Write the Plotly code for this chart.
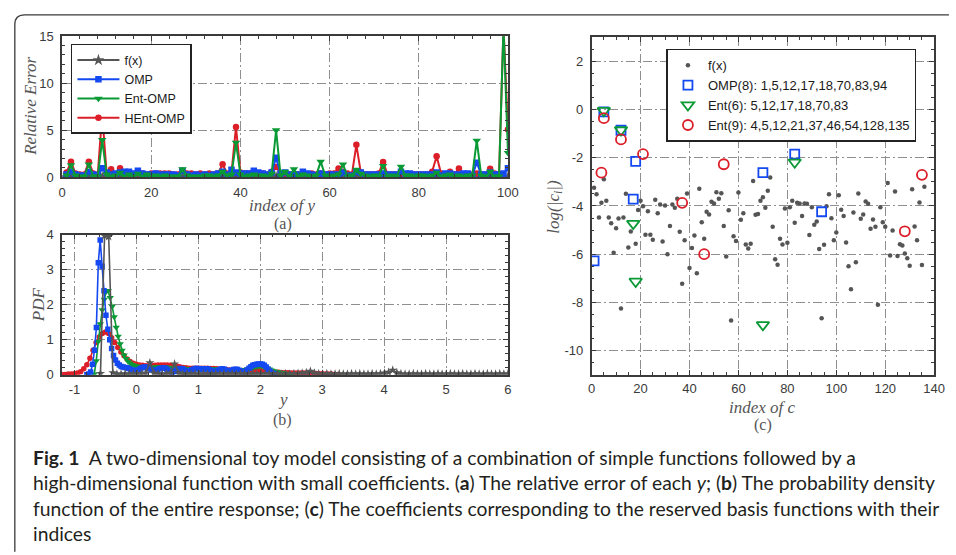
import numpy as np
import plotly.graph_objects as go

W, H = 956, 555

# ---------------- data: panel (a) relative error ----------------
idx_y = list(range(1, 101))
err_fx = [0.0, 0.0, 0.0, 0.0, 0.0, 0.0, 0.0, 0.0, 0.0, 0.0,
          0.0, 0.0, 0.0, 0.0, 0.0, 0.0, 0.0, 0.0, 0.0, 0.0,
          0.0, 0.0, 0.0, 0.0, 0.0, 0.0, 0.0, 0.0, 0.0, 0.0,
          0.0, 0.0, 0.0, 0.0, 0.0, 0.0, 0.0, 0.0, 0.0, 0.0,
          0.0, 0.0, 0.0, 0.0, 0.0, 0.0, 0.0, 0.0, 0.0, 0.0,
          0.0, 0.0, 0.0, 0.0, 0.0, 0.0, 0.0, 0.0, 0.0, 0.0,
          0.0, 0.0, 0.0, 0.0, 0.0, 0.0, 0.0, 0.0, 0.0, 0.0,
          0.0, 0.0, 0.0, 0.0, 0.0, 0.0, 0.0, 0.0, 0.0, 0.0,
          0.0, 0.0, 0.0, 0.0, 0.0, 0.0, 0.0, 0.0, 0.0, 0.0,
          0.0, 0.0, 0.0, 0.0, 0.0, 0.0, 0.0, 0.0, 0.0, 0.0]
err_omp = [0.3, 0.6, 0.3, 0.2, 0.2, 0.55, 0.3, 0.2, 0.97, 0.5,
           0.3, 0.4, 0.5, 0.6, 0.6, 0.4, 0.7, 0.4, 0.3, 0.3,
           0.4, 0.3, 0.3, 0.3, 0.3, 0.2, 0.7, 0.3, 0.2, 0.3,
           0.2, 0.3, 0.2, 0.3, 0.4, 0.6, 0.3, 0.8, 0.5, 0.4,
           0.4, 0.4, 0.7, 0.5, 0.4, 0.3, 0.5, 2.07, 0.4, 0.5,
           0.3, 0.3, 0.3, 0.6, 0.4, 0.3, 0.2, 0.4, 0.3, 0.3,
           0.3, 0.3, 0.5, 0.2, 0.2, 0.6, 0.5, 0.3, 0.3, 0.3,
           0.3, 0.4, 0.3, 0.3, 0.3, 0.6, 0.4, 0.4, 0.3, 0.3,
           0.3, 0.3, 0.3, 0.5, 0.2, 0.4, 0.4, 0.3, 0.3, 0.4,
           0.4, 0.2, 1.55, 0.3, 0.3, 0.5, 0.3, 0.3, 0.4, 0.97]
err_ent = [0.2, 1.28, 0.2, 0.1, 0.1, 1.38, 0.1, 0.1, 3.97, 0.3,
           0.1, 0.2, 0.5, 0.1, 0.3, 0.1, 0.4, 0.1, 0.3, 0.1,
           0.2, 0.1, 0.2, 0.1, 0.1, 0.1, 0.86, 0.2, 0.1, 0.1,
           0.1, 0.2, 0.2, 0.1, 0.2, 0.6, 0.2, 0.3, 3.69, 0.3,
           0.1, 0.2, 0.3, 0.2, 0.2, 0.1, 0.4, 5.0, 0.2, 0.6,
           0.1, 0.86, 0.1, 0.3, 0.2, 0.1, 0.2, 1.66, 0.2, 0.1,
           0.2, 0.3, 1.38, 0.1, 0.2, 0.8, 0.4, 0.2, 0.1, 0.2,
           0.1, 1.2, 0.1, 0.2, 0.1, 1.14, 0.2, 0.2, 0.1, 0.2,
           0.2, 0.1, 0.2, 0.5, 0.1, 0.2, 0.3, 0.1, 0.2, 0.1,
           0.2, 0.2, 3.9, 0.2, 0.1, 0.6, 0.1, 0.1, 16.0, 2.6]
err_hent = [0.5, 1.66, 0.4, 0.3, 0.3, 1.66, 0.4, 0.3, 6.7, 0.4,
            0.86, 0.3, 0.97, 0.4, 0.3, 0.3, 0.3, 0.4, 0.3, 0.4,
            0.4, 0.4, 0.4, 0.4, 0.3, 0.3, 0.7, 0.4, 0.4, 0.3,
            0.4, 0.3, 0.4, 0.3, 0.4, 1.38, 0.4, 0.5, 5.34, 0.5,
            0.4, 0.4, 0.5, 0.4, 0.4, 0.3, 0.6, 1.1, 0.4, 0.4,
            0.3, 0.2, 0.3, 0.3, 0.3, 0.4, 0.3, 0.4, 0.3, 0.4,
            0.4, 0.93, 0.6, 0.4, 0.3, 3.45, 0.5, 0.3, 0.3, 0.3,
            0.4, 1.62, 0.3, 0.3, 0.3, 0.4, 0.3, 0.2, 0.3, 0.3,
            0.3, 0.3, 0.6, 2.24, 0.4, 0.3, 0.6, 0.3, 0.93, 0.3,
            0.3, 0.3, 0.4, 0.3, 0.3, 0.9, 0.4, 0.3, 16.0, 5.07]

# ---------------- data: panel (b) PDF (evaluation grids: ends + values) ----------------
pdf_fx_range = (-0.58, 6.0)
pdf_fx = [0.04, 3.97, 3.95, 0.06, 0.02, 0.02, 0.03, 0.02, 0.03, 0.02,
          0.03, 0.05, 0.34, 0.05, 0.03, 0.02, 0.03, 0.05, 0.31, 0.05,
          0.02, 0.03, 0.02, 0.03, 0.02, 0.03, 0.02, 0.02, 0.03, 0.02,
          0.03, 0.02, 0.03, 0.02, 0.03, 0.02, 0.02, 0.03, 0.02, 0.03,
          0.02, 0.03, 0.02, 0.03, 0.02, 0.03, 0.02, 0.03, 0.04, 0.05,
          0.06, 0.10, 0.05, 0.03, 0.02, 0.03, 0.02, 0.02, 0.03, 0.02,
          0.02, 0.03, 0.02, 0.03, 0.02, 0.02, 0.03, 0.02, 0.03, 0.05,
          0.07, 0.13, 0.06, 0.03, 0.02, 0.02, 0.03, 0.02, 0.02, 0.03,
          0.02, 0.02, 0.03, 0.02, 0.02, 0.03, 0.02, 0.02, 0.03, 0.02,
          0.02, 0.03, 0.02, 0.02, 0.03, 0.02, 0.02, 0.03, 0.02, 0.03]
pdf_omp_range = (-0.8, 2.25)
pdf_omp = [0.0, 0.02, 0.08, 0.30, 0.70, 1.35, 3.20, 3.85, 3.10, 2.40,
           1.70, 1.30, 1.00, 0.75, 0.55, 0.42, 0.33, 0.28, 0.24, 0.22,
           0.21, 0.20, 0.18, 0.15, 0.13, 0.12, 0.12, 0.14, 0.17, 0.20,
           0.22, 0.22, 0.20, 0.17, 0.14, 0.12, 0.12, 0.14, 0.17, 0.19,
           0.20, 0.19, 0.16, 0.12, 0.09, 0.08, 0.10, 0.13, 0.16, 0.18,
           0.17, 0.14, 0.11, 0.10, 0.11, 0.14, 0.16, 0.18, 0.18, 0.17,
           0.16, 0.16, 0.17, 0.17, 0.15, 0.12, 0.10, 0.09, 0.10, 0.13,
           0.16, 0.17, 0.16, 0.13, 0.11, 0.11, 0.13, 0.15, 0.16, 0.15,
           0.12, 0.09, 0.08, 0.10, 0.14, 0.19, 0.23, 0.27, 0.29, 0.30,
           0.31, 0.31, 0.30, 0.27, 0.22, 0.16, 0.10, 0.06, 0.03, 0.01]
pdf_ent_range = (-0.68, 2.5)
pdf_ent = [0.02, 0.40, 0.95, 1.45, 1.85, 2.15, 2.38, 2.40, 2.20, 1.95,
           1.65, 1.35, 1.10, 0.88, 0.70, 0.56, 0.46, 0.38, 0.33, 0.29,
           0.27, 0.25, 0.24, 0.23, 0.22, 0.22, 0.21, 0.21, 0.21, 0.21,
           0.22, 0.22, 0.23, 0.23, 0.23, 0.23, 0.22, 0.21, 0.20, 0.19,
           0.19, 0.19, 0.19, 0.19, 0.19, 0.18, 0.17, 0.17, 0.17, 0.17,
           0.17, 0.17, 0.17, 0.17, 0.17, 0.17, 0.17, 0.17, 0.17, 0.17,
           0.17, 0.17, 0.17, 0.16, 0.16, 0.15, 0.15, 0.14, 0.14, 0.14,
           0.14, 0.14, 0.14, 0.14, 0.14, 0.14, 0.15, 0.16, 0.17, 0.19,
           0.21, 0.23, 0.24, 0.25, 0.25, 0.24, 0.22, 0.19, 0.16, 0.13,
           0.11, 0.09, 0.08, 0.07, 0.06, 0.05, 0.04, 0.03, 0.02, 0.01]
pdf_hent_range = (-1.2, 3.25)
pdf_hent = [0.01, 0.01, 0.02, 0.02, 0.03, 0.05, 0.09, 0.17, 0.29, 0.47,
            0.70, 0.92, 1.08, 1.18, 1.22, 1.18, 1.06, 0.92, 0.78, 0.65,
            0.54, 0.45, 0.38, 0.33, 0.30, 0.28, 0.27, 0.26, 0.26, 0.26,
            0.27, 0.28, 0.28, 0.28, 0.28, 0.27, 0.26, 0.25, 0.23, 0.21,
            0.20, 0.19, 0.19, 0.19, 0.19, 0.19, 0.19, 0.19, 0.18, 0.18,
            0.17, 0.16, 0.15, 0.15, 0.14, 0.14, 0.13, 0.13, 0.12, 0.12,
            0.12, 0.12, 0.12, 0.12, 0.12, 0.11, 0.10, 0.09, 0.08, 0.07,
            0.07, 0.06, 0.06, 0.06, 0.05, 0.05, 0.05, 0.05, 0.05, 0.05,
            0.05, 0.04, 0.04, 0.03, 0.03, 0.02, 0.02, 0.02, 0.01, 0.01]

# ---------------- data: panel (c) coefficients ----------------
c_idx = [1, 2, 3, 4, 5, 6, 7, 8, 9, 10, 11, 12, 13, 14, 15, 16, 18, 19, 20,
         21, 22, 23, 24, 25, 26, 27, 28, 29, 30, 31, 32, 33, 34, 35, 36, 37, 38, 39, 40,
         41, 42, 43, 44, 45, 46, 47, 48, 49, 50, 51, 52, 53, 54, 55, 56, 57, 58, 59, 60,
         61, 62, 63, 64, 65, 66, 67, 68, 69, 70, 71, 72, 73, 74, 75, 76, 77, 78, 79, 80,
         81, 82, 83, 84, 85, 86, 87, 88, 89, 90, 91, 92, 93, 94, 95, 96, 97, 98, 99, 100,
         101, 102, 103, 104, 105, 106, 107, 108, 109, 110, 111, 112, 113, 114, 115, 116,
         117, 118, 119, 120, 121, 122, 123, 124, 125, 126, 127, 128, 129, 130, 131, 132,
         133, 134, 135, 136]
c_val = [-3.24, -3.51, -4.48, -3.87, -2.89, -3.78, -4.48, -4.72, -5.94, -4.92, -4.52,
         -8.25, -4.48, -3.49, -5.72, -5.06, -5.57, -4.17, -3.78,
         -4.01, -5.19, -4.22, -5.19, -5.40, -3.74, -4.30, -3.94, -5.47, -3.98,
         -6.00, -4.83, -3.94, -4.07, -3.70, -5.07, -7.23, -5.42, -3.48, -6.57,
         -5.74, -5.22, -6.79, -3.29, -4.68, -5.36, -4.24, -4.35, -3.83, -3.90,
         -3.43, -3.70, -3.47, -4.83, -6.10, -4.18, -8.75, -5.26, -5.45, -3.44,
         -4.57, -4.30, -5.60, -5.76, -5.57, -2.96, -4.36, -4.33, -3.78, -3.64,
         -4.07, -3.37, -2.82, -4.86, -6.21, -6.44, -5.36, -5.60, -4.10, -5.52,
         -4.05, -3.78, -4.70, -3.87, -3.90, -4.42, -3.90, -3.91, -5.20, -4.05,
         -4.78, -4.64, -5.78, -8.66, -5.61, -4.01, -3.51, -4.51, -5.42, -5.10,
         -3.56, -4.16, -4.42, -5.51, -6.50, -7.45, -4.27, -6.33, -3.48, -4.53,
         -4.35, -3.81, -3.91, -4.94, -4.56, -4.86, -8.10, -4.05, -4.68, -4.86,
         -3.05, -6.05, -5.02, -3.40, -6.07, -5.59, -5.64, -5.97, -6.17, -6.48,
         -3.31, -4.85, -5.42, -3.86, -6.45, -3.20]
omp_idx = [1, 5, 12, 17, 18, 70, 83, 94]
omp_val = [-6.28, -0.10, -0.86, -3.72, -2.15, -2.62, -1.85, -4.24]
ent_idx = [5, 12, 17, 18, 70, 83]
ent_val = [-0.05, -0.85, -4.73, -7.13, -8.93, -2.19]
hent_idx = [4, 5, 12, 21, 37, 46, 54, 128, 135]
hent_val = [-2.62, -0.36, -1.24, -1.85, -3.87, -6.00, -2.27, -5.05, -2.71]

# tick labels (plain hyphen minus, as in the reference)
ticks_a_x = [0, 20, 40, 60, 80, 100]
ticks_a_y = [0, 5, 10, 15]
ticks_b_x = [-1, 0, 1, 2, 3, 4, 5, 6]
ticks_b_y = [0, 1, 2, 3, 4]
ticks_c_x = [0, 20, 40, 60, 80, 100, 120, 140]
ticks_c_y = [-10, -8, -6, -4, -2, 0, 2]

# ---------------- style ----------------
C_GRAY = '#555555'
C_BLUE = '#1448f0'
C_GREEN = '#0a9a35'
C_RED = '#dc1e28'
AX_COL = '#3a3a3a'
TICK_FONT = dict(family='Liberation Sans, Arial, sans-serif', size=13, color='#3a3a3a')
SERIF = 'Liberation Serif, DejaVu Serif, serif'


def px(x):
    return x / W


def py(y):
    return 1 - y / H


def grid_x(lo, hi, n):
    return np.linspace(lo, hi, n)


fig = go.Figure()

# panel (a)
fig.add_trace(go.Scatter(x=idx_y, y=err_fx, name='f(x)', mode='lines+markers',
                         line=dict(color=C_GRAY, width=2),
                         marker=dict(symbol='star', size=9, color=C_GRAY),
                         xaxis='x', yaxis='y', legend='legend', legendrank=1))
fig.add_trace(go.Scatter(x=idx_y, y=err_hent, name='HEnt-OMP', mode='lines+markers',
                         line=dict(color=C_RED, width=2),
                         marker=dict(symbol='circle', size=6.5, color=C_RED),
                         xaxis='x', yaxis='y', legend='legend', legendrank=4))
fig.add_trace(go.Scatter(x=idx_y, y=err_omp, name='OMP', mode='lines+markers',
                         line=dict(color=C_BLUE, width=2),
                         marker=dict(symbol='square', size=6.5, color=C_BLUE),
                         xaxis='x', yaxis='y', legend='legend', legendrank=2))
fig.add_trace(go.Scatter(x=idx_y, y=err_ent, name='Ent-OMP', mode='lines+markers',
                         line=dict(color=C_GREEN, width=2),
                         marker=dict(symbol='triangle-down', size=7.5, color=C_GREEN),
                         xaxis='x', yaxis='y', legend='legend', legendrank=3))

# panel (b)
fig.add_trace(go.Scatter(x=grid_x(*pdf_hent_range, len(pdf_hent)), y=pdf_hent, mode='lines+markers',
                         line=dict(color=C_RED, width=1.6),
                         marker=dict(symbol='circle', size=5.5, color=C_RED),
                         xaxis='x2', yaxis='y2', showlegend=False))
fig.add_trace(go.Scatter(x=grid_x(*pdf_ent_range, len(pdf_ent)), y=pdf_ent, mode='lines+markers',
                         line=dict(color=C_GREEN, width=1.6),
                         marker=dict(symbol='triangle-down', size=6.5, color=C_GREEN),
                         xaxis='x2', yaxis='y2', showlegend=False))
fig.add_trace(go.Scatter(x=grid_x(*pdf_omp_range, len(pdf_omp)), y=pdf_omp, mode='lines+markers',
                         line=dict(color=C_BLUE, width=1.6),
                         marker=dict(symbol='square', size=5.5, color=C_BLUE),
                         xaxis='x2', yaxis='y2', showlegend=False))
fig.add_trace(go.Scatter(x=grid_x(*pdf_fx_range, len(pdf_fx)), y=pdf_fx, mode='lines+markers',
                         line=dict(color=C_GRAY, width=1.6),
                         marker=dict(symbol='star', size=7, color=C_GRAY),
                         xaxis='x2', yaxis='y2', showlegend=False))

# panel (c)
fig.add_trace(go.Scatter(x=c_idx, y=c_val, name='f(x)', mode='markers',
                         marker=dict(symbol='circle', size=4.5, color=C_GRAY),
                         xaxis='x3', yaxis='y3', legend='legend2'))
fig.add_trace(go.Scatter(x=omp_idx, y=omp_val, name='OMP(8): 1,5,12,17,18,70,83,94', mode='markers',
                         marker=dict(symbol='square-open', size=9, color=C_BLUE, line=dict(width=1.8)),
                         xaxis='x3', yaxis='y3', legend='legend2'))
fig.add_trace(go.Scatter(x=ent_idx, y=ent_val, name='Ent(6): 5,12,17,18,70,83', mode='markers',
                         marker=dict(symbol='triangle-down-open', size=11, color=C_GREEN, line=dict(width=1.8)),
                         xaxis='x3', yaxis='y3', legend='legend2'))
fig.add_trace(go.Scatter(x=hent_idx, y=hent_val, name='Ent(9): 4,5,12,21,37,46,54,128,135', mode='markers',
                         marker=dict(symbol='circle-open', size=10, color=C_RED, line=dict(width=1.8)),
                         xaxis='x3', yaxis='y3', legend='legend2'))


def axis(domain, anchor, rng, ticks, minor_dtick, standoff):
    return dict(domain=domain, anchor=anchor, range=rng,
                tickmode='array', tickvals=ticks, ticktext=[str(t) for t in ticks],
                showline=True, linecolor=AX_COL, linewidth=1.6, mirror='allticks',
                ticks='inside', ticklen=5, tickwidth=1.2, tickcolor=AX_COL,
                ticklabelstandoff=standoff,
                showgrid=True, gridcolor='#8f8f8f', gridwidth=1, griddash='9px,3px,2px,3px',
                zeroline=False, tickfont=TICK_FONT, fixedrange=True,
                minor=dict(dtick=minor_dtick, tick0=0, ticks='inside', ticklen=3, tickwidth=1,
                           tickcolor=AX_COL, showgrid=False))


fig.update_layout(
    width=W, height=H, margin=dict(l=0, r=0, t=0, b=0),
    paper_bgcolor='white', plot_bgcolor='white',
    xaxis=axis([px(59), px(512)], 'y', [0, 100], ticks_a_x, 4, 2),
    yaxis=axis([py(175), py(30)], 'x', [0, 15], ticks_a_y, 1, 4),
    xaxis2=axis([px(59), px(512)], 'y2', [-1.2, 6], ticks_b_x, 0.2, 2),
    yaxis2=axis([py(378), py(234)], 'x2', [0, 4], ticks_b_y, 0.2, 4),
    xaxis3=axis([px(597), px(945)], 'y3', [0, 140], ticks_c_x, 5, 1),
    yaxis3=axis([py(378), py(31)], 'x3', [-11, 3], ticks_c_y, 0.5, 4),
    legend=dict(x=px(68), y=py(38), xanchor='left', yanchor='top',
                bgcolor='white', bordercolor='#222222', borderwidth=1.5,
                font=dict(family='Liberation Sans, Arial', size=12.5, color='#1a1a1a'),
                itemwidth=42, tracegroupgap=0),
    legend2=dict(x=px(673), y=py(43), xanchor='left', yanchor='top',
                 bgcolor='white', bordercolor='#222222', borderwidth=1.5,
                 font=dict(family='Liberation Sans, Arial', size=13, color='#1a1a1a'),
                 itemwidth=30, tracegroupgap=0),
    showlegend=True,
)

# outer frame (rounded top-left corner, runs off the right and bottom edges)
path = (f"M {px(11)},{py(560)} L {px(11)},{py(18)} Q {px(11)},{py(8)} {px(21)},{py(8)} "
        f"L {px(960)},{py(8)}")
fig.add_shape(type='path', path=path, xref='paper', yref='paper',
              line=dict(color='#3a3a3a', width=1.3))


def ann(text, X, Y, size=17, angle=0, color='#555555', family=SERIF, xanchor='center'):
    fig.add_annotation(text=text, x=px(X), y=py(Y), xref='paper', yref='paper',
                       showarrow=False, textangle=angle, xanchor=xanchor, yanchor='middle',
                       font=dict(family=family, size=size, color=color))


ann('<i>Relative Error</i>', 27, 102, angle=-90)
ann('<i>index of y</i>', 283, 204)
ann('(a)', 283, 223, size=16)
ann('<i>PDF</i>', 35, 306, angle=-90)
ann('<i>y</i>', 283, 403)
ann('(b)', 283, 424, size=16)
ann('<i>log(|c<sub>i</sub>|)</i>', 560, 205, angle=-90)
ann('<i>index of c</i>', 771, 412)
ann('(c)', 771, 430, size=16)

CAP = 'Lato, Liberation Sans, sans-serif'
cap_lines = [
    '<b>Fig. 1</b>  A two-dimensional toy model consisting of a combination of simple functions followed by a',
    'high-dimensional function with small coefficients. (<b>a</b>) The relative error of each <i>y</i>; (<b>b</b>) The probability density',
    'function of the entire response; (<b>c</b>) The coefficients corresponding to the reserved basis functions with their',
    'indices',
]
for i, t in enumerate(cap_lines):
    ann(t, 27, 463 + 26 * i, size=19.3, color='#231f20', family=CAP, xanchor='left')

fig.write_html('out.html')
